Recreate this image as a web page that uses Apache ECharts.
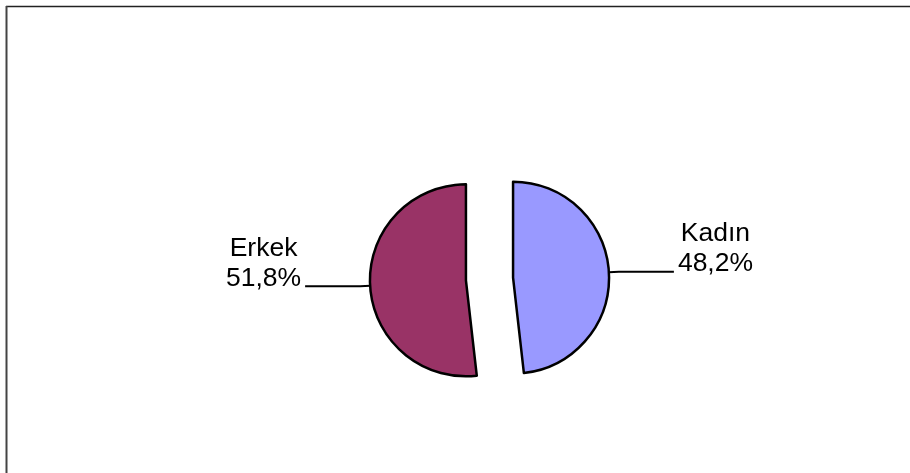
<!DOCTYPE html>
<html>
<head>
<meta charset="utf-8">
<script src="https://cdn.jsdelivr.net/npm/echarts@6/dist/echarts.min.js"></script>
<style>
  html, body { margin: 0; padding: 0; background: #fff; }
  #main { width: 910px; height: 473px; }
</style>
</head>
<body>
<div id="main"></div>
<script>
// veriler
var categories = ['Kadın', 'Erkek'];
var values = [48.2, 51.8];
var colors = ['#9999ff', '#993366'];

var myChart = echarts.init(document.getElementById('main'));

var pieData = categories.map(function (name, i) {
    return {
        name: name,
        value: values[i],
        selected: true,
        itemStyle: { color: colors[i] }
    };
});

var option = {
    backgroundColor: '#fff',
    animation: false,
    graphic: [
        // çerçeve
        { type: 'line', shape: { x1: 6, y1: 6.5, x2: 910, y2: 6.5 }, style: { stroke: '#222', lineWidth: 1.5 } },
        { type: 'line', shape: { x1: 6.5, y1: 6, x2: 6.5, y2: 473 }, style: { stroke: '#444', lineWidth: 2 } }
    ],
    series: [{
        type: 'pie',
        center: [489.5, 279],
        radius: 96,
        startAngle: 90,
        clockwise: true,
        selectedMode: 'multiple',
        selectedOffset: 23.6,
        emphasis: { disabled: true },
        itemStyle: {
            borderColor: '#000',
            borderWidth: 2.5
        },
        label: {
            show: true,
            position: 'outside',
            distanceToLabelLine: 4,
            // alttaki boş satır, çizgi ucunu ikinci satırın tabanına getirir
            formatter: function (p) {
                return '{t|' + p.name + '}\n{t|' + p.value.toFixed(1).replace('.', ',') + '%}\n{s| }';
            },
            rich: {
                t: {
                    fontFamily: 'Liberation Sans, Arial, sans-serif',
                    fontSize: 26.5,
                    lineHeight: 30,
                    color: '#000',
                    align: 'center'
                },
                s: {
                    fontSize: 10,
                    lineHeight: 46
                }
            }
        },
        labelLine: {
            show: true,
            length: 10,
            length2: 55,
            lineStyle: { color: '#000', width: 2 }
        },
        data: pieData
    }]
};

myChart.setOption(option);
</script>
</body>
</html>
